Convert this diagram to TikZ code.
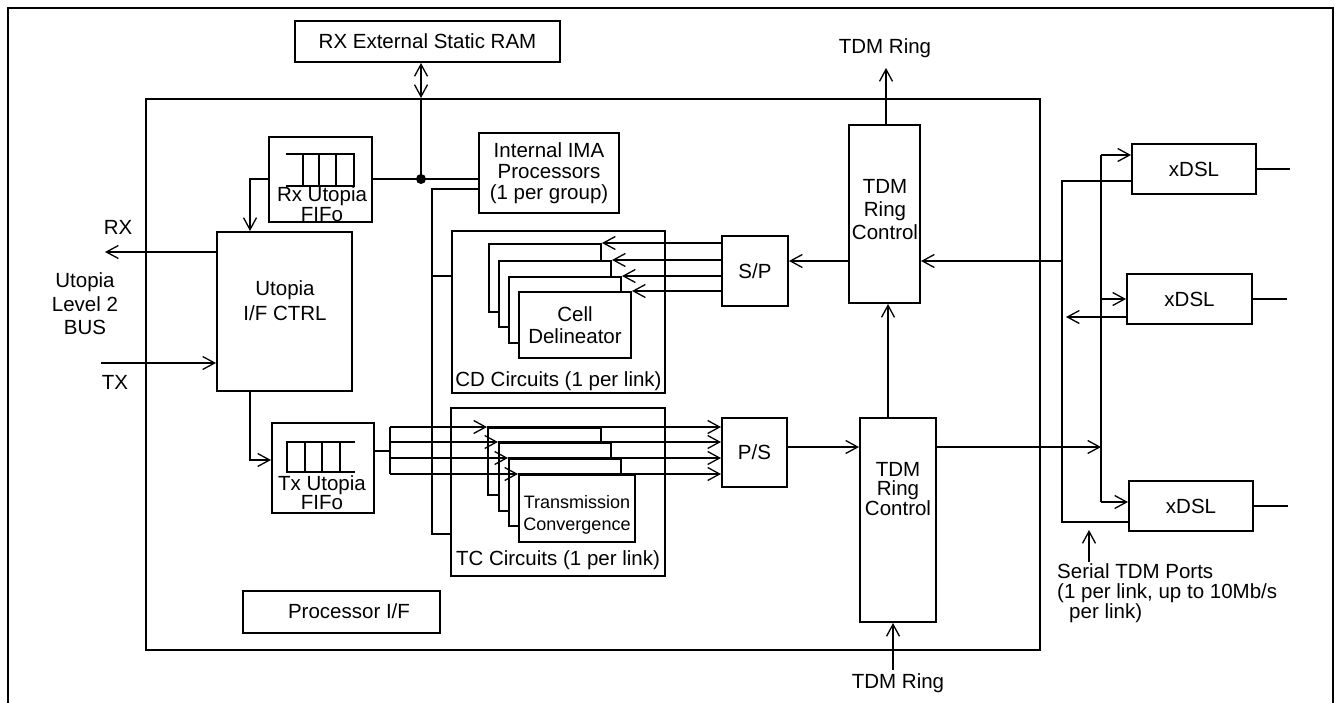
\documentclass[tikz,border=0pt]{standalone}
\usepackage{fontspec}
\setmainfont{Liberation Sans}
\usetikzlibrary{arrows.meta,calc}
\begin{document}
\begin{tikzpicture}[x=1pt,y=-1pt,
  wire/.style={line width=2pt},
  box/.style={draw, line width=2pt, inner sep=0pt, align=center, font=\fontsize{20.5}{23}\selectfont},
  wbox/.style={box, fill=white},
  sz/.style n args={2}{minimum width=#1pt, minimum height=#2pt},
  txt/.style={inner sep=0pt, align=center, font=\fontsize{20.5}{#1}\selectfont},
  txt/.default=23,
  barb/.tip={Straight Barb[length=12pt,width=13pt,line width=1.3pt]},
  arr/.style={wire, -barb},
  dbl/.style={wire, barb-barb}]
\useasboundingbox (0,0) rectangle (1337,703);
% outer frame (open at the bottom)
\draw[wire] (8,703) -- (8,8) -- (1333,8) -- (1333,703);

% chip
\node[box, sz={894}{551}] (chip) at (593,374.5) {};
\node[box, sz={265}{41}] (ram) at (427.5,41.5) {RX External Static RAM};

% Rx FIFO
\node[box, sz={103}{85}] (rxfifo) at (320.5,179.5) {};
\draw[wire] (286,154) -- (354,154) -- (354,186) -- (286,186);
\draw[wire] (303,154) -- (303,186) (319,154) -- (319,186) (336,154) -- (336,186);
\node[txt=14] (rxfifotxt) at (322,204) {Rx Utopia\\FIFo};

% Utopia I/F CTRL
\node[box, sz={135}{159}] (utopia) at (284.5,311.5) {};
\node[txt=25] (utotxt) at (285,301) {Utopia\\I/F CTRL};

% Tx FIFO
\node[box, sz={102}{90}] (txfifo) at (323,468) {};
\draw[wire] (355,442) -- (287,442) -- (287,472) -- (355,472);
\draw[wire] (305,442) -- (305,472) (322,442) -- (322,472) (340,442) -- (340,472);
\node[txt=17] (txfifotxt) at (322,492.5) {Tx Utopia\\FIFo};

% Internal IMA
\node[box, sz={140}{80}, font=\fontsize{20.5}{21}\selectfont] (ima) at (549,173) {Internal IMA\\Processors\\(1 per group)};

% CD circuits
\node[box, sz={213}{162}] (cd) at (558.5,312) {};
\node[txt] (cdtxt) at (558.5,381) {CD Circuits (1 per link)};
\node[wbox, sz={112}{68}] (cdb1) at (545,278) {};
\node[wbox, sz={112}{66}] (cdb2) at (555,294) {};
\node[wbox, sz={112}{66}] (cdb3) at (565,310) {};
\node[wbox, sz={112}{66}, font=\fontsize{20.5}{22}\selectfont] (cell) at (575,325) {Cell\\Delineator};

% TC circuits
\node[box, sz={214}{168}] (tc) at (558,492) {};
\node[txt] (tctxt) at (558,560) {TC Circuits (1 per link)};
\node[wbox, sz={113}{67}] (tcb1) at (544.5,461.5) {};
\node[wbox, sz={112}{68}] (tcb2) at (555,477) {};
\node[wbox, sz={112}{67}] (tcb3) at (565,492.5) {};
\node[wbox, sz={116}{67}] (tcf) at (577,508.5) {};
\node[inner sep=0pt, align=center, font=\fontsize{18}{22}\selectfont] (tcftxt) at (577,514.5) {Transmission\\Convergence};

% S/P, P/S
\node[box, sz={66}{70}] (sp) at (755,271) {S/P};
\node[box, sz={65}{69}] (ps) at (754.5,452.5) {P/S};

% TDM ring controls
\node[box, sz={71}{178}] (tdm1) at (884.5,214) {};
\node[txt=23] (tdm1txt) at (885,210) {TDM\\Ring\\Control};
\node[box, sz={76}{204}] (tdm2) at (898,520) {};
\node[txt=18.5] (tdm2txt) at (898,489) {TDM\\Ring\\Control};

% Processor I/F
\node[box, sz={197}{42}] (proc) at (341.5,612) {};
\node[txt] (proctxt) at (349,611) {Processor I/F};

% xDSL
\node[box, sz={124}{50}] (xdsl1) at (1194,169) {xDSL};
\node[box, sz={125}{50}] (xdsl2) at (1189.5,299) {xDSL};
\node[box, sz={124}{50}] (xdsl3) at (1191,506) {xDSL};

% labels
\node[txt] (rxlbl) at (118,227) {RX};
\node[txt] (txlbl) at (115,382) {TX};
\node[txt=23.5] (buslbl) at (85,304) {Utopia\\Level 2\\BUS};
\node[txt] (ringtoplbl) at (885,48) {TDM Ring};
\node[txt] (ringbotlbl) at (898,683) {TDM Ring};
\node[inner sep=0pt, align=left, anchor=west, font=\fontsize{20.5}{20}\selectfont] (seriallbl) at (1057,593) {Serial TDM Ports\\(1 per link, up to 10Mb/s\\\hspace*{12pt}per link)};

% ---- connectors ----
\coordinate (jn) at (421,179);
\draw[dbl] (jn |- ram.south) -- (jn |- chip.north);
\draw[wire] (jn |- chip.north) -- (jn);
\fill (jn) circle (5);
\draw[wire] (rxfifo.east |- jn) -- (ima.west |- jn);
\draw[arr] (rxfifo.west |- jn) -| ($(utopia.north west)+(34,0)$);

\coordinate (rxend) at (105,252);
\draw[arr] (utopia.west |- rxend) -- (rxend);
\coordinate (txstart) at (101,363);
\draw[arr] (txstart) -- (utopia.west |- txstart);
\coordinate (txd) at (250,460);
\draw[arr] (utopia.south -| txd) |- (txfifo.west |- txd);

% Tx FIFO bus to TC stack and P/S
\coordinate (tb) at (390,451);
\draw[wire] (txfifo.east |- tb) -- (tb);
\draw[wire] (tcb1.north west -| tb) -- (tcf.north west -| tb);
\foreach \b in {tcb1,tcb2,tcb3,tcf}{
  \draw[arr] (\b.north west -| tb) -- (\b.north west);
  \draw[arr] (\b.north west) -- (\b.north west -| ps.west);
}
% S/P to CD stack
\foreach \b in {cdb1,cdb2,cdb3,cell}{
  \draw[arr] (\b.north east -| sp.west) -- (\b.north east);
}

% IMA to CD and TC
\coordinate (iv) at (432,189);
\coordinate (ivb) at (432,534);
\coordinate (ivm) at (432,276);
\draw[wire] (ima.west |- iv) -- (iv) -- (ivb) -- (tc.west |- ivb);
\draw[wire] (ivm) -- (cd.west |- ivm);

% TDM ring connections
\coordinate (busA1) at (1062,261);
\draw[arr] (tdm1.west |- busA1) -- (sp.east |- busA1);
\draw[arr] (busA1) -- (tdm1.east |- busA1);
\coordinate (busB1) at (1101,447);
\draw[arr] (ps.east |- busB1) -- (tdm2.west |- busB1);
\draw[arr] (tdm2.east |- busB1) -- (busB1);
\coordinate (tv) at (888,360);
\draw[arr] (tv |- tdm2.north) -- (tv |- tdm1.south);
\coordinate (ringT) at (886,68);
\draw[arr] (ringT |- tdm1.north) -- (ringT);
\coordinate (ringB) at (893,670);
\draw[arr] (ringB) -- (ringB |- tdm2.south);

% xDSL buses
\coordinate (a1) at (1062,181);
\coordinate (a3) at (1062,522);
\coordinate (a2) at (1066,317);
\draw[wire] (xdsl1.west |- a1) -- (a1) -- (a3) -- (xdsl3.west |- a3);
\draw[arr] (xdsl2.west |- a2) -- (a2);
\coordinate (b1) at (1101,155);
\coordinate (b2) at (1101,299);
\coordinate (b3) at (1101,502);
\draw[wire] (b1) -- (b3);
\draw[arr] (b1) -- (xdsl1.west |- b1);
\draw[arr] (b2) -- (xdsl2.west |- b2);
\draw[arr] (b3) -- (xdsl3.west |- b3);
\draw[wire] (xdsl1.east) -- ++(33,0);
\draw[wire] (xdsl2.east) -- ++(34,0);
\draw[wire] (xdsl3.east) -- ++(34,0);
\coordinate (sa) at (1089,562);
\draw[arr] (sa) -- ++(0,-32);
\end{tikzpicture}
\end{document}
